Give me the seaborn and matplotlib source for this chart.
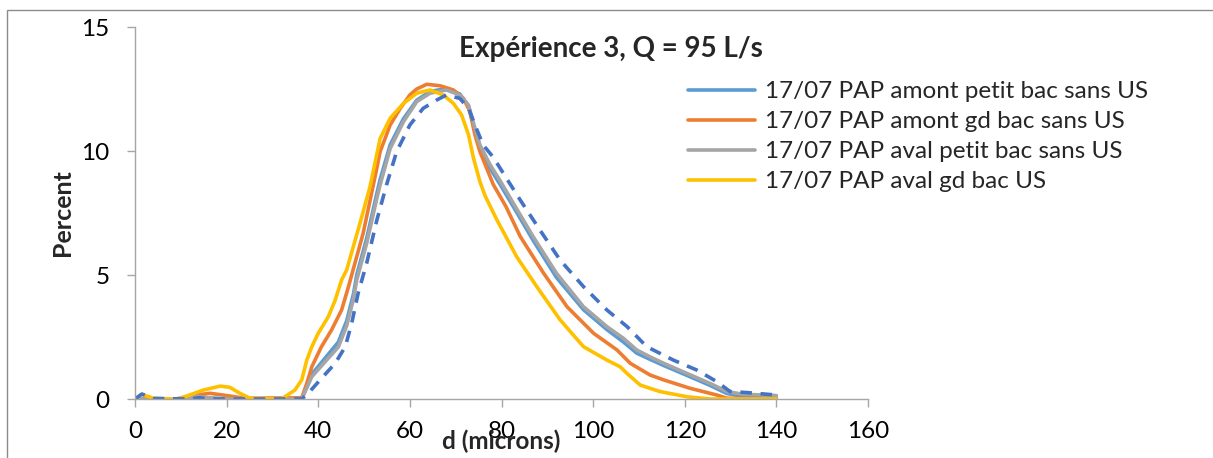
import matplotlib
matplotlib.use("Agg")
import matplotlib.pyplot as plt
import seaborn as sns
import pandas as pd
from matplotlib.patches import Rectangle

# ---------------- data ----------------
labels = [
    "17/07 PAP amont petit bac sans US",
    "17/07 PAP amont gd bac sans US",
    "17/07 PAP aval petit bac sans US",
    "17/07 PAP aval gd bac US",
]

d_blue = [0, 9, 11.5, 13.5, 16, 20, 36.4, 38.6, 41.5, 44.4, 46.2, 47.7, 48.4, 50.6, 52.8, 53.5, 55.7, 58.6,
          61.5, 64.4, 68, 70.9, 72.8, 74.2, 75.3, 77.5, 79.7, 82.6, 86.9, 92, 97.9, 103, 106.6, 109.5, 112.4,
          115.4, 120.5, 125.5, 129.2, 132.8, 140]
v_blue = [0, 0, 0.05, 0.08, 0.04, 0, 0, 1.0, 1.65, 2.3, 3.15, 4.25, 5.0, 6.5, 8.3, 8.85, 10.25, 11.3,
          12.05, 12.4, 12.52, 12.3, 11.8, 10.8, 10.1, 9.3, 8.65, 7.75, 6.4, 4.9, 3.6, 2.8, 2.3, 1.85, 1.6,
          1.35, 0.95, 0.55, 0.22, 0.1, 0.05]

d_orange = [0, 9, 11.5, 13.5, 16.4, 20.7, 24, 36.4, 37.5, 38.6, 40.7, 42.9, 45.1, 46.6, 49.8, 52.7, 53.5,
            55.7, 57.9, 60, 61.5, 63.7, 66.6, 69.5, 71.7, 73.1, 74.2, 75.3, 78.2, 81, 84.1, 89.2, 94.3,
            100.1, 105.2, 108.1, 112.4, 115.4, 121.2, 127, 129.2, 140]
v_orange = [0, 0, 0.08, 0.16, 0.23, 0.12, 0.03, 0.05, 0.63, 1.3, 2.11, 2.78, 3.59, 4.53, 6.68, 9.23, 9.97,
            11.05, 11.72, 12.26, 12.5, 12.69, 12.63, 12.46, 12.12, 11.6, 10.65, 9.97, 8.65, 7.75, 6.55, 5.07,
            3.72, 2.65, 1.98, 1.44, 0.97, 0.77, 0.43, 0.16, 0.03, 0]

d_gray = [0, 9, 11.5, 13.5, 16, 20, 36.4, 38.6, 41.5, 44.4, 46.2, 47.7, 48.4, 50.6, 52.8, 53.5, 55.7, 58.6,
          61.5, 64.4, 68, 70.9, 72.8, 74.2, 75.3, 77.5, 79.7, 82.6, 86.9, 92, 97.9, 103, 106.6, 109.5, 112.4,
          115.4, 120.5, 125.5, 129.2, 132.8, 140]
v_gray = [0, 0, 0.05, 0.1, 0.05, 0, 0, 0.9, 1.5, 2.1, 2.95, 4.05, 4.8, 6.3, 8.1, 8.63, 10.1, 11.18,
          11.99, 12.33, 12.46, 12.26, 11.85, 10.92, 10.24, 9.45, 8.8, 7.89, 6.55, 5.07, 3.72, 2.92, 2.45,
          1.98, 1.7, 1.44, 1.03, 0.63, 0.3, 0.19, 0.14]

d_yellow = [0, 1.5, 4, 9, 11.3, 14.9, 18.6, 20.7, 22.9, 25.1, 31.7, 32.8, 34.9, 36.4, 37.5, 38.6, 40, 42.2,
            43.7, 45.1, 46.2, 49.1, 51.3, 53.5, 55.7, 58.6, 61.5, 64.4, 67.3, 69.5, 71.3, 72.8, 73.9, 75.3,
            76.4, 79, 83.3, 87.7, 92.8, 97.9, 103, 105.9, 107.4, 110.3, 114.6, 120.5, 125.5, 130, 140]
v_yellow = [0, 0.19, 0.03, 0, 0.12, 0.36, 0.52, 0.47, 0.23, 0.03, 0, 0.1, 0.36, 0.77, 1.57, 2.11, 2.65, 3.32,
            3.99, 4.8, 5.2, 7.08, 8.56, 10.5, 11.32, 11.92, 12.33, 12.46, 12.26, 11.92, 11.45, 10.65, 9.7, 8.76,
            8.2, 7.22, 5.74, 4.53, 3.19, 2.11, 1.57, 1.3, 1.03, 0.56, 0.3, 0.09, 0, 0, 0]

d_dash = [0, 1.5, 4, 12, 14, 16, 36.4, 37.8, 40.7, 43.7, 45.9, 47.3, 48.7, 50.6, 52.8, 54.9, 57.1, 60, 62.9,
          65.9, 68, 70.9, 72.8, 74.2, 76, 78.2, 80.4, 84.1, 88.4, 92.8, 97.9, 103, 107.4, 111.7, 117.5,
          122.6, 127, 129.9, 133.5, 140]
v_dash = [0, 0.2, 0.02, 0, 0.05, 0, 0, 0.23, 0.83, 1.44, 2.11, 3.05, 4.26, 5.5, 7.22, 8.63, 9.97, 11.05, 11.72,
          12.06, 12.26, 12.12, 11.72, 11.05, 10.24, 9.75, 9.1, 8.02, 6.81, 5.6, 4.53, 3.59, 2.92, 2.11, 1.57,
          1.17, 0.7, 0.3, 0.26, 0.16]

x_ticks = [0, 20, 40, 60, 80, 100, 120, 140, 160]
y_ticks = [0, 5, 10, 15]

title = "Expérience 3, Q = 95 L/s"
xlabel = "d (microns)"
ylabel = "Percent"

# ---------------- style ----------------
sns.set_theme(style="white")
plt.rcParams["font.family"] = ["Lato", "DejaVu Sans"]

colors = ["#5B9BD5", "#ED7D31", "#A5A5A5", "#FFC000"]
dash_color = "#4472C4"
axis_color = "#A6A6A6"
lw = 2.6
fs = 17.5

fig = plt.figure(figsize=(12.13, 4.58), dpi=100)
ax = fig.add_axes([135 / 1213, 1 - 399 / 458, (868 - 135) / 1213, (399 - 27) / 458])

series = [(d_blue, v_blue), (d_orange, v_orange), (d_gray, v_gray), (d_yellow, v_yellow)]
for (dx, vy), lab, col in zip(series, labels, colors):
    df = pd.DataFrame({"d": dx, "v": vy})
    sns.lineplot(data=df, x="d", y="v", color=col, lw=lw, label=lab, ax=ax, sort=False,
                 solid_capstyle="round", solid_joinstyle="round")

df_dash = pd.DataFrame({"d": d_dash, "v": v_dash})
sns.lineplot(data=df_dash, x="d", y="v", color=dash_color, lw=lw, ax=ax, sort=False,
             label="_nolegend_", linestyle=(0, (3.2, 2.4)))

ax.set_xlim(0, 160)
ax.set_ylim(0, 15)
ax.set_xticks(x_ticks)
ax.set_yticks(y_ticks)
ax.set_xticklabels([str(t) for t in x_ticks])
ax.set_yticklabels([str(t) for t in y_ticks])
ax.tick_params(axis="both", which="major", labelsize=fs, length=5.5, width=1, color=axis_color,
               direction="out", bottom=True, left=True, labelcolor="black")
ax.tick_params(axis="x", pad=10)
ax.tick_params(axis="y", pad=13)
for s in ["top", "right"]:
    ax.spines[s].set_visible(False)
for s in ["left", "bottom"]:
    ax.spines[s].set_color(axis_color)
    ax.spines[s].set_linewidth(1)
ax.set_xlabel("")
ax.set_ylabel("")

fig.text(62 / 1213, 1 - 213 / 458, ylabel, rotation=90, ha="center", va="center",
         fontsize=18, fontweight="bold")
fig.text(501 / 1213, 1 - 441 / 458, xlabel, ha="center", va="center",
         fontsize=17.5, fontweight="bold")
fig.text(611 / 1213, 1 - 49 / 458, title, ha="center", va="center",
         fontsize=20, fontweight="bold")

handles, labs = ax.get_legend_handles_labels()
if ax.legend_:
    ax.legend_.remove()
fig.legend(handles[:4], labs[:4], loc="upper left", bbox_to_anchor=(688 / 1213, 1 - 81 / 458),
           frameon=False, fontsize=fs, handlelength=2.75, handletextpad=0.42,
           labelspacing=0.37, borderpad=0, borderaxespad=0)

# outer chart border (top and left visible)
fig.add_artist(Rectangle((7 / 1213, -0.5), 2, 0.5 + (1 - 10 / 458), transform=fig.transFigure,
                         fill=False, edgecolor="#8C8C8C", lw=1, clip_on=False))

fig.savefig("out.png", dpi=100)
